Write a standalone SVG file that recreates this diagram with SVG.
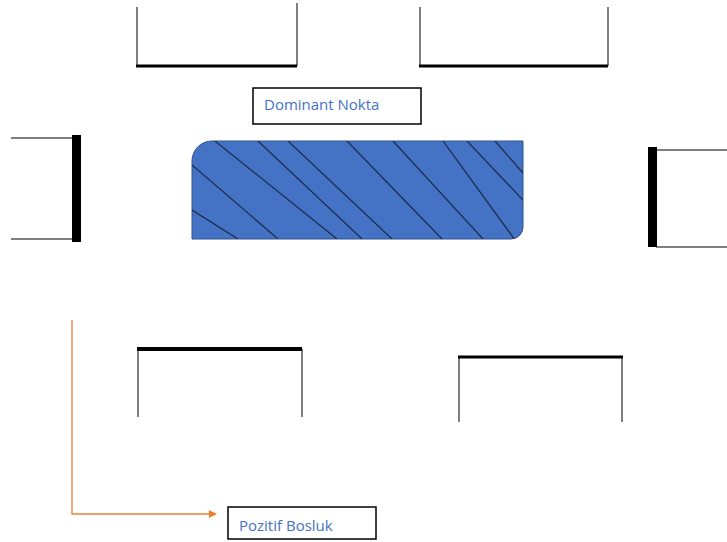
<svg xmlns="http://www.w3.org/2000/svg" width="727" height="542" viewBox="0 0 727 542">
<style>
.thin{stroke:#555;stroke-width:1.5;fill:none}
.thick{stroke:#000;fill:none}
.hatch{stroke:#1c2a48;stroke-width:1.2}
.box{fill:#fff;stroke:#000;stroke-width:1.5}
.lbl{font-family:"Open Sans","Liberation Sans",sans-serif;font-size:15px;fill:#4472C4}
</style>
<defs>
<marker id="arr" viewBox="0 0 10 10" refX="9" refY="5" markerWidth="8" markerHeight="8" markerUnits="userSpaceOnUse" orient="auto"><path d="M0,0 L10,5 L0,10 z" fill="#ED7D31"/></marker>
<clipPath id="rc"><path d="M212,141 H523 V227 A12,12 0 0 1 511,239 H192 V161 A20,20 0 0 1 212,141 Z"/></clipPath>
</defs>
<g id="top-left-bracket">
<line class="thin" x1="137" y1="7" x2="137" y2="66"/>
<line class="thin" x1="297" y1="3" x2="297" y2="66"/>
<line class="thick" stroke-width="3" x1="136" y1="66" x2="297" y2="66"/>
</g>
<g id="top-right-bracket">
<line class="thin" x1="420" y1="7" x2="420" y2="66"/>
<line class="thin" x1="608" y1="7" x2="608" y2="66"/>
<line class="thick" stroke-width="3" x1="419" y1="66" x2="608" y2="66"/>
</g>
<g id="left-bracket">
<line class="thin" x1="11" y1="138" x2="73" y2="138"/>
<line class="thin" x1="11" y1="239" x2="73" y2="239"/>
<rect x="72" y="135" width="9" height="107" fill="#000"/>
</g>
<g id="right-bracket">
<line class="thin" x1="656" y1="150" x2="727" y2="150"/>
<line class="thin" x1="656" y1="247" x2="727" y2="247"/>
<rect x="648" y="147" width="9" height="100" fill="#000"/>
</g>
<g id="bottom-left-bracket">
<line class="thin" x1="138" y1="349" x2="138" y2="417"/>
<line class="thin" x1="302" y1="349" x2="302" y2="417"/>
<line class="thick" stroke-width="4" x1="137" y1="349" x2="302" y2="349"/>
</g>
<g id="bottom-right-bracket">
<line class="thin" x1="459" y1="358" x2="459" y2="422"/>
<line class="thin" x1="622" y1="358" x2="622" y2="422"/>
<line class="thick" stroke-width="3" x1="458" y1="357" x2="623" y2="357"/>
</g>
<g id="dominant-area">
<path d="M212,141 H523 V227 A12,12 0 0 1 511,239 H192 V161 A20,20 0 0 1 212,141 Z" fill="#4472C4" stroke="#2F528F" stroke-width="1"/>
<g clip-path="url(#rc)" class="hatch">
<line x1="192" y1="210" x2="238" y2="239"/>
<line x1="192" y1="165" x2="278" y2="239"/>
<line x1="215" y1="141" x2="337" y2="239"/>
<line x1="258" y1="141" x2="362" y2="239"/>
<line x1="288" y1="141" x2="392" y2="239"/>
<line x1="347" y1="141" x2="442" y2="239"/>
<line x1="393" y1="141" x2="483" y2="239"/>
<line x1="443" y1="141" x2="515" y2="240"/>
<line x1="467" y1="141" x2="523" y2="200"/>
<line x1="495" y1="141" x2="523" y2="173"/>
</g>
</g>
<g id="dominant-nokta">
<rect class="box" x="253" y="88" width="168" height="36"/>
<text class="lbl" x="264" y="110">Dominant Nokta</text>
</g>
<g id="pozitif-bosluk">
<rect class="box" x="228" y="507" width="148" height="32"/>
<text class="lbl" x="239" y="531">Pozitif Bosluk</text>
</g>
<g id="connectors">
<path d="M72,320 V514 H216" fill="none" stroke="#ED7D31" stroke-width="1.3" marker-end="url(#arr)"/>
</g>
</svg>
